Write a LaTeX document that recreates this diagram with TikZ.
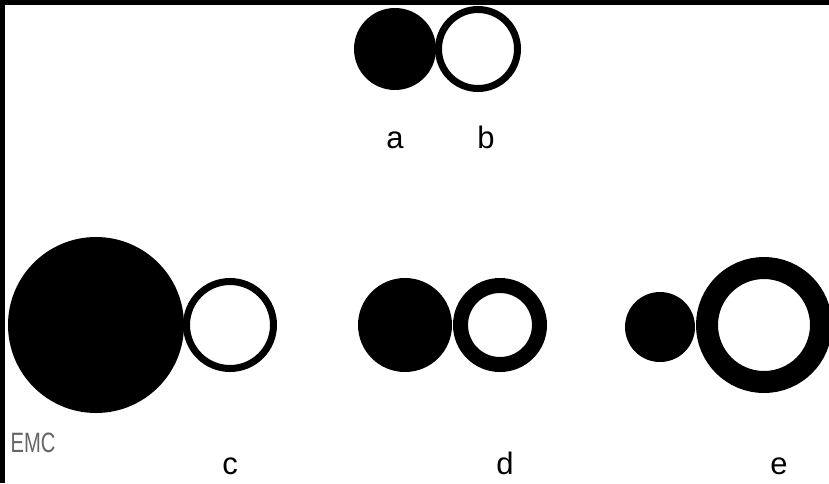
\documentclass[tikz,border=0pt]{standalone}
\usepackage{fontspec}
\setmainfont{Liberation Sans}
\begin{document}
\begin{tikzpicture}[x=1pt,y=-1pt,
  solid/.style={circle,fill=black,inner sep=0pt,outer sep=0pt},
  ring/.style={circle,draw=black,fill=white,inner sep=0pt,outer sep=0pt},
  lbl/.style={anchor=base,inner sep=0pt,font=\fontsize{31}{33}\selectfont}]
\useasboundingbox (0,0) rectangle (829,483);
\fill[white] (0,0) rectangle (829,483);
\fill[black] (0,0) rectangle (829,5);
\fill[black] (0,0) rectangle (5,483);
% top pair
\node[solid,minimum size=82pt] (a) at (395,49) {};
\node[ring,line width=7pt,minimum size=79pt] (b) at (478,49) {};
\node[lbl] (la) at (395,148) {a};
\node[lbl] (lb) at (486,148) {b};
% c
\node[solid,minimum size=176pt] (c1) at (96,325) {};
\node[ring,line width=7pt,minimum size=87pt] (c2) at (230,325) {};
\node[lbl] (lc) at (230,474) {c};
% d
\node[solid,minimum size=94pt] (d1) at (405,325) {};
\node[ring,line width=15pt,minimum size=79pt] (d2) at (500,325) {};
\node[lbl] (ld) at (505,474) {d};
% e
\node[solid,minimum size=70pt] (e1) at (660,327) {};
\node[ring,line width=22pt,minimum size=114pt] (e2) at (764,325) {};
\node[lbl] (le) at (779,474) {e};
% EMC
\node[inner sep=0pt,text=black!60] (emc) at (33,443) {\scalebox{0.72}[1]{\fontsize{28}{30}\selectfont EMC}};
\end{tikzpicture}
\end{document}
